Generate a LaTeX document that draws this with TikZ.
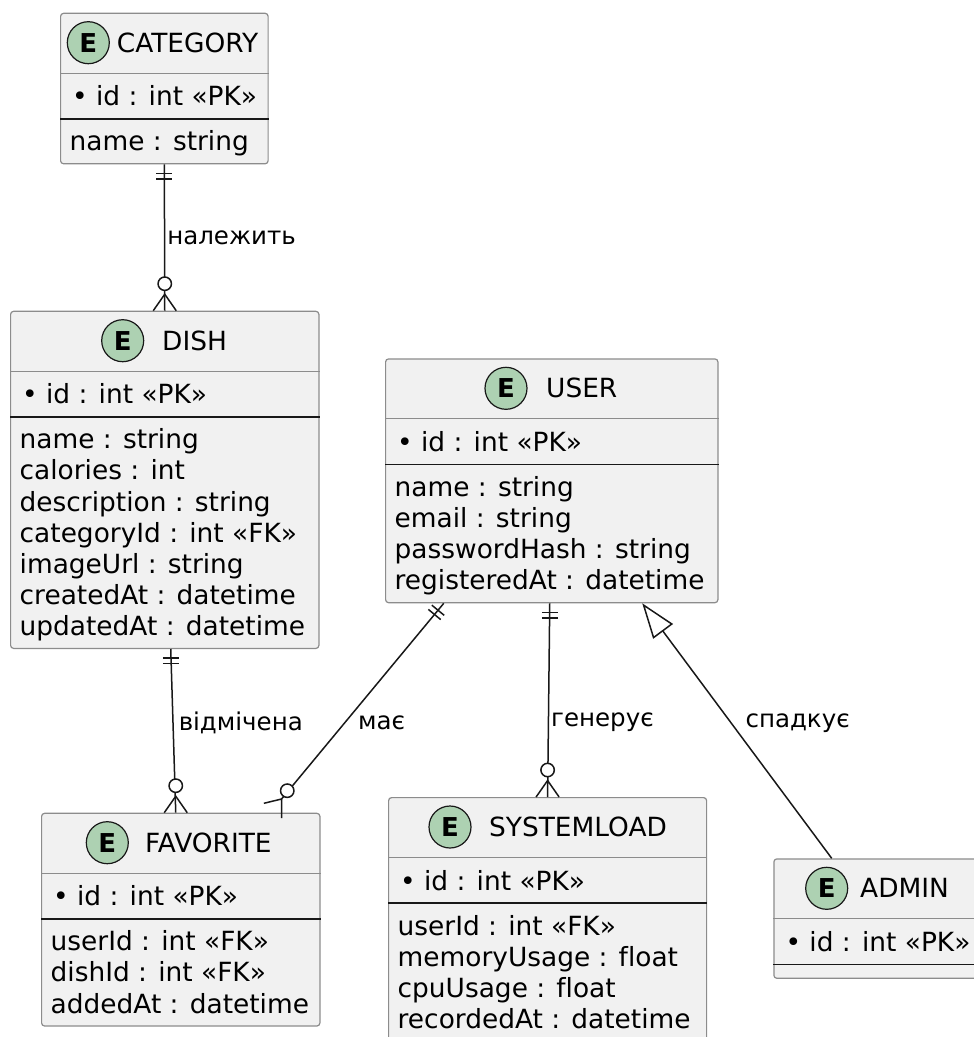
\documentclass[tikz,border=0pt]{standalone}
\usepackage{fontspec}
\setmainfont{DejaVu Sans}[Ligatures={NoCommon}]
\usetikzlibrary{arrows.meta}
\definecolor{boxfill}{HTML}{F1F1F1}
\definecolor{boxline}{HTML}{8C8C8C}
\definecolor{ink}{HTML}{181818}
\definecolor{badgegreen}{HTML}{ADD1B2}

\begin{document}
\begin{tikzpicture}[x=1pt, y=-1pt,
      every node/.style = {inner sep=0pt},
      entity/.style = {draw=boxline, line width=1.2pt, fill=boxfill, rounded corners=3pt, anchor=north west},
      headsep/.style = {draw=boxline, line width=1.2pt},
      keysep/.style = {draw=ink, line width=1.8pt},
      badge/.style = {circle, draw=ink, line width=1.2pt, fill=badgegreen, minimum size=42pt, font=\bfseries\fontsize{26}{26}\selectfont},
      headtext/.style = {anchor=base west, font=\fontsize{26.4}{31.1}\selectfont},
      attr/.style = {anchor=base west, align=left, font=\fontsize{26.4}{31.1}\selectfont},
      rel/.style = {draw=ink, line width=1.5pt},
      verb/.style = {anchor=west, font=\fontsize{24.5}{29}\selectfont},
      onebar/.pic = {\draw[rel] (-8,9) -- (8,9) (-8,14.5) -- (8,14.5);},
      zeromany/.pic = {\draw[rel] (-11.5,0) -- (0,-16.5) -- (11.5,0);
                       \draw[rel, fill=white] (0,-27) circle[radius=6.7pt];}
      ]
      \useasboundingbox (0,0) rectangle (974,1037);
      \clip (0,0) rectangle (974,1037);

      % CATEGORY
      \node[entity, minimum width=207.5pt, minimum height=150.5pt] (cat) at (60,12.7) {};
      \draw[headsep] ([yshift=-60.5pt]cat.north west) -- ([yshift=-60.5pt]cat.north east);
      \draw[keysep] ([yshift=-106.1pt]cat.north west) -- ([yshift=-106.1pt]cat.north east);
      \node[badge] (cat-e) at ([xshift=28.3pt,yshift=-30pt]cat.north west) {E};
      \node[headtext] (cat-t) at ([xshift=56.7pt,yshift=-39.6pt]cat.north west) {CATEGORY};
      \node[attr] (cat-pk) at ([xshift=12pt,yshift=-93pt]cat.north west) {• id : int «PK»};
      \node[attr] (cat-a) at ([xshift=9.5pt,yshift=-138.1pt]cat.north west) {name : string};

      % DISH (base of a block = its last line)
      \node[entity, minimum width=308.3pt, minimum height=337.1pt] (dish) at (10,310.7) {};
      \draw[headsep] ([yshift=-60.5pt]dish.north west) -- ([yshift=-60.5pt]dish.north east);
      \draw[keysep] ([yshift=-106.1pt]dish.north west) -- ([yshift=-106.1pt]dish.north east);
      \node[badge] (dish-e) at ([xshift=112.7pt,yshift=-30pt]dish.north west) {E};
      \node[headtext] (dish-t) at ([xshift=152pt,yshift=-39.6pt]dish.north west) {DISH};
      \node[attr] (dish-pk) at ([xshift=12pt,yshift=-93pt]dish.north west) {• id : int «PK»};
      \node[attr] (dish-a) at ([xshift=9.5pt,yshift=-324.7pt]dish.north west)
            {name : string\\calories : int\\description : string\\categoryId : int «FK»\\imageUrl : string\\createdAt : datetime\\updatedAt : datetime};

      % USER
      \node[entity, minimum width=332.3pt, minimum height=243.8pt] (user) at (385,358.3) {};
      \draw[headsep] ([yshift=-60.5pt]user.north west) -- ([yshift=-60.5pt]user.north east);
      \draw[keysep] ([yshift=-106.1pt]user.north west) -- ([yshift=-106.1pt]user.north east);
      \node[badge] (user-e) at ([xshift=121pt,yshift=-30pt]user.north west) {E};
      \node[headtext] (user-t) at ([xshift=161pt,yshift=-39.6pt]user.north west) {USER};
      \node[attr] (user-pk) at ([xshift=12pt,yshift=-93pt]user.north west) {• id : int «PK»};
      \node[attr] (user-a) at ([xshift=9.5pt,yshift=-231.4pt]user.north west)
            {name : string\\email : string\\passwordHash : string\\registeredAt : datetime};

      % FAVORITE
      \node[entity, minimum width=278.3pt, minimum height=212.7pt] (fav) at (41,812.7) {};
      \draw[headsep] ([yshift=-60.5pt]fav.north west) -- ([yshift=-60.5pt]fav.north east);
      \draw[keysep] ([yshift=-106.1pt]fav.north west) -- ([yshift=-106.1pt]fav.north east);
      \node[badge] (fav-e) at ([xshift=66.3pt,yshift=-30pt]fav.north west) {E};
      \node[headtext] (fav-t) at ([xshift=104pt,yshift=-39.6pt]fav.north west) {FAVORITE};
      \node[attr] (fav-pk) at ([xshift=12pt,yshift=-93pt]fav.north west) {• id : int «PK»};
      \node[attr] (fav-a) at ([xshift=9.5pt,yshift=-200.3pt]fav.north west)
            {userId : int «FK»\\dishId : int «FK»\\addedAt : datetime};

      % SYSTEMLOAD
      \node[entity, minimum width=318pt, minimum height=243.8pt] (sys) at (388,797) {};
      \draw[headsep] ([yshift=-60.5pt]sys.north west) -- ([yshift=-60.5pt]sys.north east);
      \draw[keysep] ([yshift=-106.1pt]sys.north west) -- ([yshift=-106.1pt]sys.north east);
      \node[badge] (sys-e) at ([xshift=62pt,yshift=-30pt]sys.north west) {E};
      \node[headtext] (sys-t) at ([xshift=101pt,yshift=-39.6pt]sys.north west) {SYSTEMLOAD};
      \node[attr] (sys-pk) at ([xshift=12pt,yshift=-93pt]sys.north west) {• id : int «PK»};
      \node[attr] (sys-a) at ([xshift=9.5pt,yshift=-231.4pt]sys.north west)
            {userId : int «FK»\\memoryUsage : float\\cpuUsage : float\\recordedAt : datetime};

      % ADMIN
      \node[entity, minimum width=214pt, minimum height=119.4pt] (admin) at (773.3,858.3) {};
      \draw[headsep] ([yshift=-60.5pt]admin.north west) -- ([yshift=-60.5pt]admin.north east);
      \draw[keysep] ([yshift=-106.1pt]admin.north west) -- ([yshift=-106.1pt]admin.north east);
      \node[badge] (admin-e) at ([xshift=53.4pt,yshift=-30pt]admin.north west) {E};
      \node[headtext] (admin-t) at ([xshift=86.7pt,yshift=-39.6pt]admin.north west) {ADMIN};
      \node[attr] (admin-pk) at ([xshift=12pt,yshift=-93pt]admin.north west) {• id : int «PK»};

      % relations
      \draw[rel] (cat.south) -- node[verb, xshift=2pt] (v-belongs) {належить} (dish.north);
      \pic at (cat.south) {onebar};
      \pic at (dish.north) {zeromany};

      \draw[rel] ([xshift=6pt]dish.south) -- node[verb, pos=0.45, xshift=5pt] (v-marked) {відмічена} ([xshift=-5pt]fav.north);
      \pic at ([xshift=6pt]dish.south) {onebar};
      \pic at ([xshift=-5pt]fav.north) {zeromany};

      \coordinate (has-foot) at ([xshift=100.8pt,yshift=13.7pt]fav.north);
      \draw[rel] ([xshift=-108pt]user.south) -- node[verb, pos=0.61, xshift=12.5pt] (v-has) {має} (has-foot);
      \draw[rel] (has-foot) -- ++(0,19) (has-foot) -- ++(-17.7,4.3);
      \draw[rel, fill=white] ([xshift=5.7pt,yshift=8.3pt]has-foot) circle[radius=6.7pt];
      \pic[rotate=-39.5] at ([xshift=-108pt]user.south) {onebar};

      \draw[rel] ([xshift=-2pt]user.south) -- node[verb, pos=0.615, xshift=2pt] (v-gen) {генерує} (sys.north);
      \pic at ([xshift=-2pt]user.south) {onebar};
      \pic at (sys.north) {zeromany};

      \draw[rel, {Triangle[open, length=35pt, width=24.5pt]}-] ([xshift=90.5pt]user.south)
            -- node[verb, pos=0.47, xshift=13.5pt] (v-inh) {спадкує} ([xshift=58.4pt]admin.north west);
\end{tikzpicture}
\end{document}
